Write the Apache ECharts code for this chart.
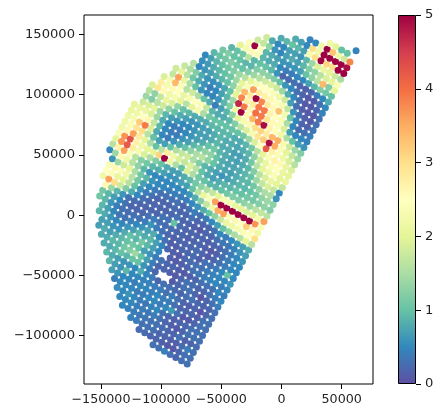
<!DOCTYPE html>
<html><head><meta charset="utf-8">
<script src="https://cdn.jsdelivr.net/npm/echarts@6/dist/echarts.min.js"></script>
<style>html,body{margin:0;padding:0;background:#fff}#c{width:444px;height:418px}</style>
</head><body><div id="c"></div>
<script>
// Values, on the regular sampling grid the points visibly sit on.
// Grid: each row is a line of the rotated lattice; gridFirst = lattice column of the first value in the row.
const gridOrigin = [-78350, -123590];
const gridStepAcross = [4731, -2656];
const gridStepAlong = [2551, 4728];
const gridFirst = [-6,-9,-11,-13,-14,-15,-16,-17,-18,-19,-20,-21,-22,-22,-23,-23,-24,-24,-24,-25,-25,-25,-25,-26,-26,-26,-26,-26,-26,-26,-26,-26,-25,-25,-25,-25,-24,-24,-23,-23,-22,-21,-20,-20,-19,-18,-17,-16,-15,-14,-13,-11,-9,-7,-4,0];
const gridValues = [
[.3,.3,.45,.3,.2,.3,.3],
[.25,.25,.2,.2,.15,.1,.1,.2,.3,.3],
[.45,.4,.3,.3,.3,.2,.2,.15,.15,.25,.4,.3],
[.5,.45,.4,.35,.35,.3,.3,.25,.2,.2,.3,.15,.2,.25],
[.5,.5,.5,.4,.4,.35,.4,.3,.2,.15,.1,.2,.3,.3,.3],
[.55,.5,.6,.5,.4,.35,.45,.5,.3,.2,.15,.2,.2,.3,.3,.3],
[.4,.5,.5,.5,.4,.4,.5,.5,.4,.5,.65,.3,.1,.1,.2,.3,.3],
[.7,.6,.5,.5,.4,.5,.5,.4,.5,.4,.4,.3,.2,.2,.2,.15,.3,.3],
[.9,.7,.6,.9,.5,.5,.45,.45,.4,.4,.3,.4,.3,.2,.15,.2,.05,.2,.3],
[.9,.8,.7,.6,.6,.5,.8,.5,.4,.2,.3,.3,.25,.2,.3,.3,.2,.2,.2,.3],
[.8,.8,.9,1.0,.9,1.0,1.0,.6,.4,.2,null,null,.1,.2,.3,.3,.2,.05,.2,.3,.4],
[.8,.8,.9,.9,1.1,1.2,1.4,1.0,.7,.4,.2,.2,.15,.1,.2,.3,.25,.2,.2,.3,.4,.5],
[.7,.8,.7,.8,.9,1.0,1.1,1.0,.7,.6,.4,.3,.2,.2,.15,.1,.15,.2,.3,.3,.3,.5,.4],
[.7,.7,.6,.6,.8,1.0,.9,1.1,.9,.7,.5,null,.15,.1,.15,.2,.3,.35,.4,.45,.5,.4,.5],
[.9,.8,.6,.5,.5,.6,.7,.9,.8,.9,.7,.5,.2,.15,.1,.2,.25,.3,.3,.4,.45,.5,.5,.6],
[.9,.7,.5,.35,.3,.4,.5,.6,.7,.8,.5,.3,.15,.15,.2,.2,.25,.15,.3,.3,.4,.5,1.0,.5],
[1.1,.9,.6,.4,.3,.25,.3,.3,.4,.6,.4,.3,.2,.15,.2,.2,.2,.25,.2,.1,.2,.3,.4,.5,.5],
[1.1,.9,.7,.5,.3,.2,.2,.2,.3,.4,.3,.25,.25,.2,.2,.15,.2,.2,.15,.1,.15,.3,.4,.5,.5],
[2.6,1.4,.9,.6,.3,.25,.2,.2,.2,.2,.3,.3,1.0,.25,.2,.2,.2,.2,.15,.2,.2,.3,.4,.5,.6],
[2.2,3.6,3.0,1.8,1.2,.8,.5,.3,.2,.2,.2,.2,.2,.3,.2,.2,.15,.1,.2,.2,.3,.35,.35,.45,.6,.7],
[2.5,2.4,2.1,2.0,1.6,1.0,.6,.4,.3,.2,.2,.2,.25,.2,.2,.3,.2,.2,.2,.3,.5,.4,.5,.6,.7,.8],
[2.4,2.6,2.4,2.2,1.6,1.1,.7,.5,.4,.3,.3,.3,.3,.2,.3,.4,.3,.4,.5,.7,1.0,1.3,1.5,1.6,2.0,1.6],
[.6,1.4,1.8,2.0,1.5,1.1,.9,.6,.5,.5,.4,.4,.4,.4,.5,.6,.8,1.0,1.3,1.7,2.1,2.2,2.3,2.4,2.5,3.0],
[.5,1.4,2.6,2.2,1.6,1.3,.9,.6,.5,.5,.5,.5,.5,.5,.6,.8,1.2,1.7,2.2,3.5,3.6,2.4,2.6,2.5,3.2,2.6,2.2],
[1.6,2.7,3.6,2.4,1.6,1.2,1.1,.9,.8,.7,.6,.6,.7,.7,1.0,1.6,2.1,2.4,3.6,5,5,5,5,5,5,3.7,2.4],
[2.0,3.7,4.2,2.8,2.3,1.9,1.5,1.2,1.0,.8,.7,.7,.8,.9,1.1,1.3,1.5,1.7,2.0,2.3,2.3,2.1,2.0,1.9,2.0,2.3,3.6],
[2.4,3.7,4.3,2.7,2.2,2.0,2.0,3.1,5,2.2,1.5,1.0,1.9,1.5,1.1,1.0,.9,.9,1.0,1.1,1.2,1.2,1.3,1.4,1.6,1.7,1.6],
[2.2,2.6,3.6,2.8,2.0,1.5,1.0,1.6,2.8,2.2,1.9,1.7,1.9,1.6,1.0,.8,.7,.8,.9,.9,1.0,1.0,1.1,1.1,1.2,1.3,1.2],
[2.2,2.4,2.9,3.0,1.6,1.0,.7,.7,1.0,1.5,1.7,1.8,1.5,1.2,.9,.8,.7,.6,.7,.8,.9,.9,1.0,1.1,1.3,1.4,1.3],
[2.2,2.3,3.2,3.9,1.9,.8,.5,.4,.6,.8,1.0,1.3,1.5,1.6,1.3,1.0,.8,.75,.7,.8,.9,.9,1.1,1.3,1.5,1.5,.6],
[2.1,2.2,2.5,2.6,1.7,.9,.5,.4,.4,.6,.7,.9,1.1,1.3,1.3,1.0,.8,.75,.75,.8,.9,1.0,1.4,1.7,1.9,1.7,.5],
[2.0,2.1,2.1,1.9,1.4,.8,.5,.4,.4,.5,.6,.7,.8,1.0,1.1,.9,.8,.75,.7,.8,.9,1.2,1.6,1.9,2.1,2.0,1.7],
[1.8,1.9,2.0,1.4,.9,.7,.6,.5,.5,.6,.7,.7,.8,.9,.8,.8,.7,.7,.8,1.1,1.6,2.0,2.2,2.4,2.0,2.1],
[1.4,1.2,1.6,1.8,1.3,1.0,.8,.7,.6,.6,.7,.7,.8,.9,.8,.8,.75,.8,.9,1.3,1.8,2.1,2.4,2.5,2.1,2.0],
[1.6,1.3,1.7,2.1,1.9,1.3,1.0,.9,.8,.8,.8,.9,.9,.9,.9,.8,.8,.9,1.1,1.6,2.0,2.4,2.7,2.6,2.1,1.9],
[1.9,2.9,2.6,2.2,2.3,2.0,1.6,2.0,2.3,1.5,1.1,1.0,1.0,1.0,1.0,1.0,1.1,1.4,1.9,2.5,4.2,2.7,2.4,2.2,1.9,1.6],
[2.8,2.3,2.6,2.5,2.1,2.3,2.5,2.4,1.7,.9,.8,.8,.9,1.2,1.6,1.9,2.3,2.9,3.2,4.9,3.5,2.4,2.0,1.7,1.4],
[1.9,2.3,3.4,2.4,1.6,1.8,1.5,1.0,.8,.4,.7,.9,1.3,2.0,2.3,2.6,3.0,3.1,2.8,3.4,3.5,2.3,1.8,1.4,1.2],
[1.7,3.6,2.1,1.5,1.0,.6,.5,.45,.6,.9,1.2,2.2,5,2.6,3.4,3.9,4.9,2.7,2.5,2.2,1.5,1.0,.7,.6],
[1.8,2.0,1.6,1.1,.8,.6,.4,.5,.7,.9,1.4,4.7,3.9,2.6,4.0,3.9,2.9,2.6,2.4,1.9,.7,.5,.5,.45],
[1.7,1.5,1.2,.8,.6,.55,.6,.75,1.0,2.0,3.8,2.7,2.8,3.9,3.9,2.7,2.5,2.4,1.5,.5,.25,.3,.4],
[1.6,.5,.6,.7,.8,.9,1.0,1.3,1.9,3.4,2.8,5,3.8,2.8,2.6,3.3,2.3,1.0,.5,.2,.15,.35],
[.55,.65,.8,.9,1.0,1.1,1.4,2.0,2.4,3.6,2.8,2.7,2.6,2.5,2.3,1.7,.6,.3,.15,.1,.3],
[.5,.7,.9,1.0,1.1,1.2,1.4,1.6,2.0,2.3,2.5,2.5,2.4,2.2,1.8,.7,.3,.15,.1,.1,.3],
[.9,1.0,1.1,1.2,1.1,1.0,1.2,1.4,1.6,1.8,1.9,1.8,1.4,.8,.5,.25,.1,.1,.2,.45],
[1.1,1.2,1.0,1.0,.9,.9,1.2,1.3,1.3,1.2,1.0,.6,.5,.3,.2,.1,.1,.3,.5],
[.9,1.0,1.1,1.6,.9,1.0,1.0,.9,.6,.2,.25,.3,.2,.15,.2,.4,.5,.8],
[2.0,2.3,2.6,2.4,.9,.8,.8,.5,.4,.4,.5,.5,.7,.9,1.2,1.1,1.0],
[2.4,5,2.5,.9,.8,.7,.6,.6,.6,.7,1.0,1.3,1.6,3.4,1.2,2.0],
[1.8,1.7,1.3,.6,.5,.7,.8,.7,.9,1.2,1.3,1.6,1.9,2.0,2.4],
[1.8,.8,.5,.5,.7,.7,.6,.9,1.4,1.9,2.1,2.0,1.8,1.5],
[.8,.9,1.0,.9,.7,2.3,3.0,5,3.1,3.0,5,5],
[.8,.7,.5,3.0,2.2,5,5,5,5,4.9],
[.45,.5,2.2,5,3.3,2.2,1.8,3.8],
[2.2,2.0,1.0,1.0],
[.45]
];
const xTicks = [-150000,-100000,-50000,0,50000];
const yTicks = [-100000,-50000,0,50000,100000,150000];
const barTicks = [0,1,2,3,4,5];
const spectralReversed = ['#5e4fa2','#3288bd','#66c2a5','#abdda4','#e6f598','#ffffbf','#fee08b','#fdae61','#f46d43','#d53e4f','#9e0142'];

const points = [];
gridValues.forEach((row, n) => row.forEach((v, i) => {
  if (v === null) return;
  const m = gridFirst[n] + i;
  points.push([gridOrigin[0] + n*gridStepAlong[0] + m*gridStepAcross[0],
               gridOrigin[1] + n*gridStepAlong[1] + m*gridStepAcross[1], v]);
}));

const font = {color:'#222', fontFamily:'DejaVu Sans', fontSize:13.1};
const fmt = v => String(v).replace('-', '\u2212');
const tick = {show:true, length:5, lineStyle:{color:'#000', width:1}};
const chart = echarts.init(document.getElementById('c'), null, {renderer:'canvas'});
chart.setOption({
  animation:false,
  backgroundColor:'#fff',
  grid:[
    {left:84, top:15, width:289, height:369, show:true, borderColor:'#000', borderWidth:1, backgroundColor:'#fff'},
    {left:398, top:15, width:18, height:369}
  ],
  xAxis:[
    {type:'value', gridIndex:0, min:-164090, max:76030, splitLine:{show:false},
     axisLine:{show:false, onZero:false},
     axisTick:{...tick, customValues:xTicks},
     axisLabel:{...font, fontSize:12.7, margin:9, customValues:xTicks, formatter:fmt, hideOverlap:false}},
    {type:'category', gridIndex:1, data:[''], show:false}
  ],
  yAxis:[
    {type:'value', gridIndex:0, min:-140190, max:166080, splitLine:{show:false},
     axisLine:{show:false, onZero:false},
     axisTick:{...tick, customValues:yTicks},
     axisLabel:{...font, margin:9, customValues:yTicks, formatter:fmt, hideOverlap:false}},
    {type:'value', gridIndex:1, position:'right', min:0, max:5, interval:1, splitLine:{show:false},
     axisLine:{show:false, onZero:false},
     axisTick:{...tick},
     axisLabel:{...font, margin:9}}
  ],
  visualMap:{show:false, seriesIndex:0, dimension:2, min:0, max:5, inRange:{color:spectralReversed}},
  series:[
    {type:'scatter', xAxisIndex:0, yAxisIndex:0, data:points, symbol:'circle', symbolSize:7,
     itemStyle:{opacity:1}, silent:true},
    {type:'bar', xAxisIndex:1, yAxisIndex:1, data:[barTicks[barTicks.length-1]], barWidth:'100%', silent:true,
     itemStyle:{borderColor:'#000', borderWidth:1,
       color:{type:'linear', x:0, y:1, x2:0, y2:0,
         colorStops:spectralReversed.map((c,i)=>({offset:i/(spectralReversed.length-1), color:c}))}}}
  ]
});
</script></body></html>
